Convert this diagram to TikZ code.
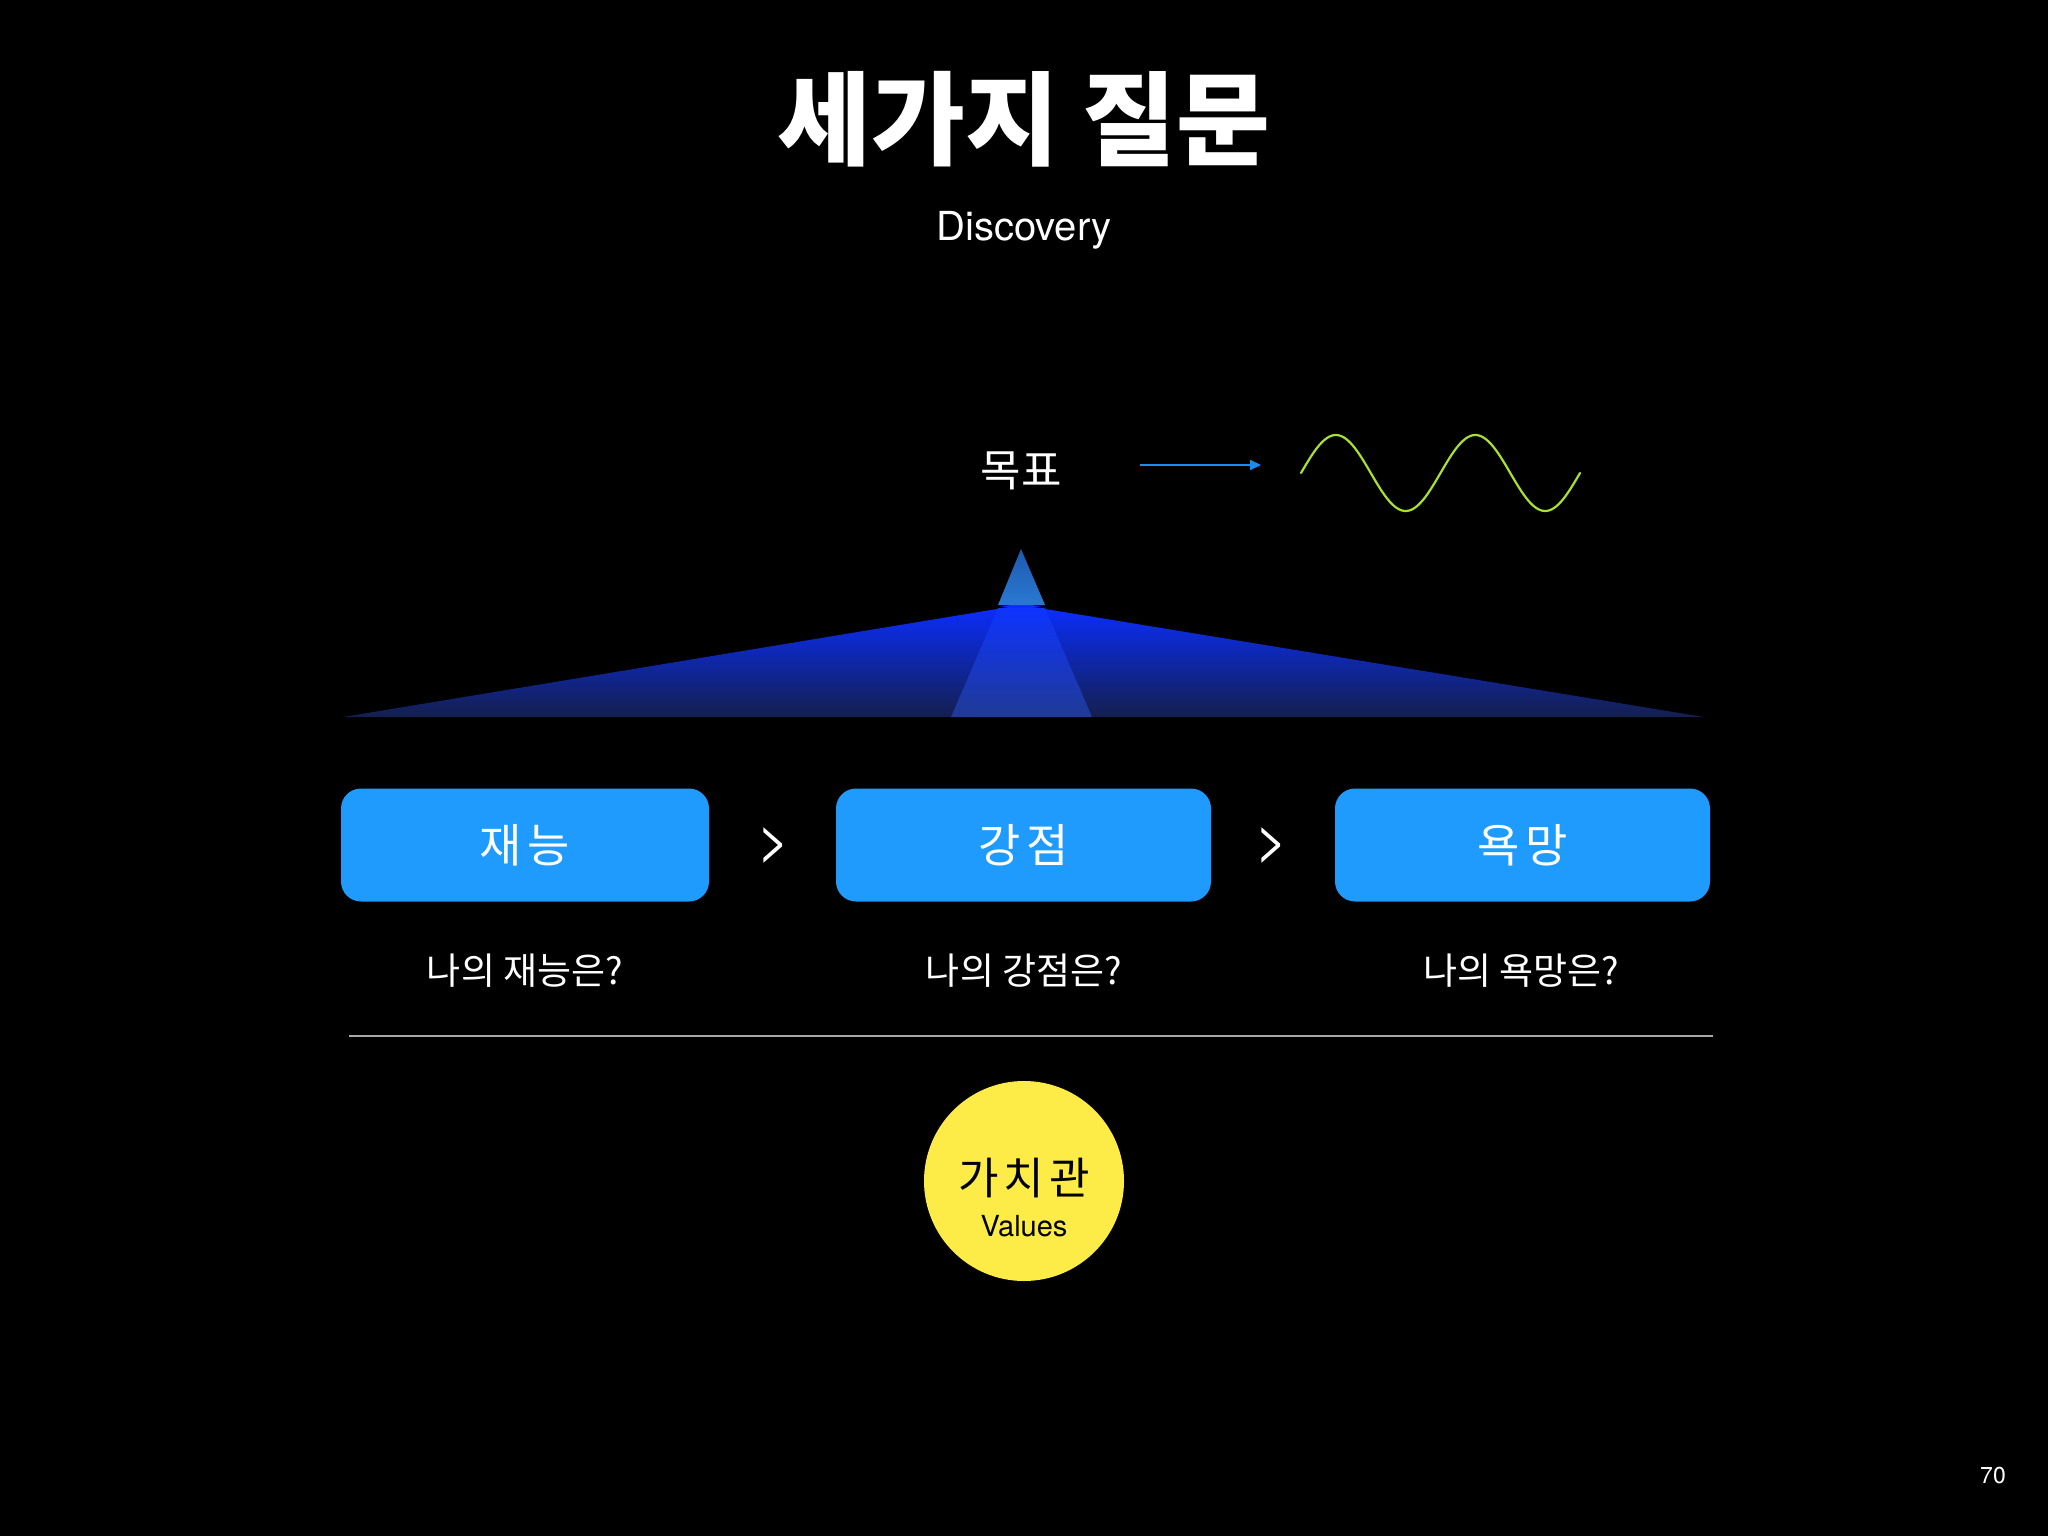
\documentclass[tikz,border=0pt]{standalone}
\usepackage{fontspec}
\setmainfont{TeX Gyre Heros}
\newfontfamily\kr{Noto Sans CJK KR}
\usetikzlibrary{arrows.meta}
\definecolor{boxblue}{HTML}{1E9BFC}
\definecolor{arrblue}{HTML}{1A8CF0}
\definecolor{wave}{HTML}{A8E030}
\definecolor{yel}{HTML}{FDEB47}
\definecolor{fantop}{HTML}{0A2EFF}
\definecolor{fanbot}{HTML}{141F4E}
\definecolor{striptop}{HTML}{0E34FF}
\definecolor{stripbot}{HTML}{203A94}
\definecolor{spiketop}{HTML}{1E5AAF}
\definecolor{spikebot}{HTML}{2A78D2}
\definecolor{linegray}{HTML}{A8A8A8}
\tikzset{
  pill/.style={fill=boxblue, rounded corners=20pt, minimum width=368pt, minimum height=113pt, inner sep=0pt, text=white, font=\kr\fontsize{46}{50}\selectfont},
  qtext/.style={text=white, font=\kr\fontsize{37}{40}\selectfont},
  gt/.style={text=white, font=\fontsize{56}{60}\selectfont},
}
\begin{document}
\begin{tikzpicture}[x=1pt,y=-1pt]
\fill[black] (0,0) rectangle (2048,1536);
\useasboundingbox (0,0) rectangle (2048,1536);
% title
\node[text=white, font=\kr\bfseries\fontsize{102}{110}\selectfont] (title) at (1024,119) {세가지 질문};
\node[text=white, font=\fontsize{40}{44}\selectfont] (disc) at (1024,230) {Discovery};
% goal
\node[text=white, font=\kr\fontsize{44}{48}\selectfont] (goal) at (1021,471) {목표};
\coordinate (arrS) at (1140,465);
\coordinate (arrE) at (1261,465);
\draw[arrblue, line width=2pt, -{Triangle[length=11pt,width=10pt]}] (arrS) -- (arrE);
\draw[wave, line width=2.2pt, line cap=round] plot[smooth, samples=120, domain=0:279] ({1301+\x},{473-38*sin(\x/139.5*360)});
% fan
\shade[top color=fantop, bottom color=fanbot] (1021,605) -- (343,717) -- (1704,717) -- cycle;
\shade[top color=striptop, bottom color=stripbot] (998,608) -- (1045,608) -- (1092,717) -- (951,717) -- cycle;
\shade[top color=fantop, bottom color=fantop] (1021,603) -- (1000,607) -- (1042,607) -- cycle;
\shade[top color=spiketop, bottom color=spikebot] (1021,549) -- (998,605) -- (1045,605) -- cycle;
% boxes
\node[pill] (b1) at (525,845) {재\hspace{6pt}능};
\node[pill, minimum width=375pt] (b2) at (1023.5,845) {강\hspace{6pt}점};
\node[pill, minimum width=375pt] (b3) at (1522.5,845) {욕\hspace{6pt}망};
\node[gt] (g1) at (774,845) {>};
\node[gt] (g2) at (1272,845) {>};
% questions
\node[qtext] (q1) at (525,971) {나의 재능은?};
\node[qtext] (q2) at (1024,971) {나의 강점은?};
\node[qtext] (q3) at (1521,971) {나의 욕망은?};
% separator
\coordinate (l1) at (349,1036);
\coordinate (l2) at (1713,1036);
\draw[linegray, line width=2pt] (l1) -- (l2);
% values circle
\node[circle, fill=yel, minimum size=200pt, inner sep=0pt] (vc) at (1024,1181) {};
\node[text=black, font=\kr\fontsize{44}{48}\selectfont] (v1) at (1024,1178) {가\hspace{5pt}치\hspace{5pt}관};
\node[text=black, font=\fontsize{29}{32}\selectfont] (v2) at (1024,1226) {Values};
% page number
\node[text=white, font=\fontsize{23}{26}\selectfont] (pg) at (1993,1476) {70};
\end{tikzpicture}
\end{document}
